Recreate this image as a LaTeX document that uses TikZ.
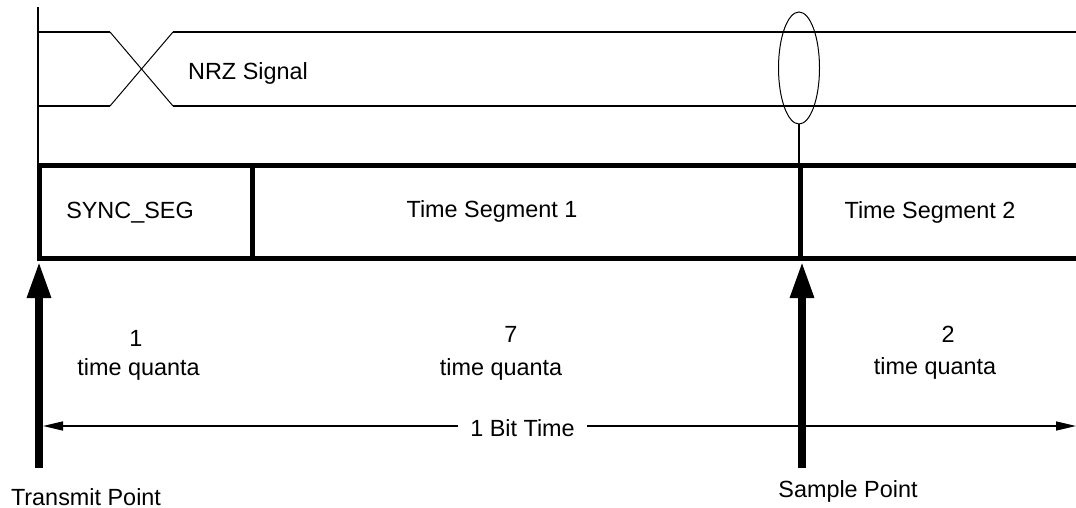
\documentclass[tikz,border=0pt]{standalone}
\usepackage{fontspec}
\setmainfont{Liberation Sans}
\usetikzlibrary{arrows.meta,shapes.geometric}
\begin{document}
\begin{tikzpicture}[x=1pt,y=-1pt,
  lbl/.style={font=\fontsize{23.4}{28}\selectfont, inner sep=0pt, anchor=base},
  sigline/.style={line width=1.7pt},
  crossline/.style={line width=1pt},
  segline/.style={line width=5pt},
  bigarrow/.style={line width=8.5pt, -{Triangle[length=37pt,width=22pt]}},
  spantip/.style={line width=1.5pt},
]
\useasboundingbox (0,0) rectangle (1076,508);

% NRZ signal
\coordinate (vtop) at (38,7);
\coordinate (vbot) at (38,165);
\draw[sigline] (vtop) -- (vbot);
\coordinate (ulA) at (38,32);   \coordinate (ulB) at (110,32);
\coordinate (llA) at (38,106);  \coordinate (llB) at (110,106);
\coordinate (urA) at (173,32);  \coordinate (urB) at (1076,32);
\coordinate (lrA) at (173,106); \coordinate (lrB) at (1076,106);
\draw[sigline] (ulA) -- (ulB);
\draw[sigline] (llA) -- (llB);
\draw[sigline] (urA) -- (urB);
\draw[sigline] (lrA) -- (lrB);
\draw[crossline] (ulB) -- (lrA);
\draw[crossline] (llB) -- (urA);
\node[lbl, anchor=base west] (nrz) at (188,80) {NRZ Signal};

% sample ellipse
\node[draw, ellipse, line width=1pt, minimum width=41pt, minimum height=112pt, inner sep=0pt] (samp) at (799,68) {};
\coordinate (stemend) at (799,165);
\draw[sigline] (samp.south) -- (stemend);

% segment box
\coordinate (bTL) at (39.5,165.5);
\coordinate (bBL) at (39.5,258.5);
\coordinate (bTR) at (1076,165.5);
\coordinate (bBR) at (1076,258.5);
\draw[segline] (bTR) -- (bTL) -- (bBL) -- (bBR);
\coordinate (d1t) at (252.5,165.5); \coordinate (d1b) at (252.5,258.5);
\coordinate (d2t) at (800.5,165.5); \coordinate (d2b) at (800.5,258.5);
\draw[segline] (d1t) -- (d1b);
\draw[segline] (d2t) -- (d2b);
\node[lbl] (sync) at (130,218.5) {SYNC\_SEG};
\node[lbl] (ts1) at (492,217.5) {Time Segment 1};
\node[lbl] (ts2) at (930,218) {Time Segment 2};

% thick arrows
\coordinate (tpb) at (39,468);  \coordinate (tpt) at (39,261);
\coordinate (spb) at (802,468); \coordinate (spt) at (802,261);
\draw[bigarrow] (tpb) -- (tpt);
\draw[bigarrow] (spb) -- (spt);

% quanta labels
\node[lbl] (n1) at (136,346) {1};
\node[lbl] (q1) at (138.5,375) {time quanta};
\node[lbl] (n7) at (511,342) {7};
\node[lbl] (q7) at (501,375) {time quanta};
\node[lbl] (n2) at (948,342) {2};
\node[lbl] (q2) at (935,374.5) {time quanta};

% bit time span
\node[lbl, inner xsep=12pt] (bit) at (522.5,436) {1 Bit Time};
\coordinate (ltip) at (43,426);
\coordinate (rtip) at (1076,426);
\draw[spantip, {Triangle[length=20pt,width=9pt]}-] (ltip) -- (ltip -| bit.west);
\draw[spantip, -{Triangle[length=20pt,width=9pt]}] (rtip -| bit.east) -- (rtip);

% point labels
\node[lbl] (tp) at (86,505) {Transmit Point};
\node[lbl] (sp) at (848,497) {Sample Point};
\end{tikzpicture}
\end{document}
